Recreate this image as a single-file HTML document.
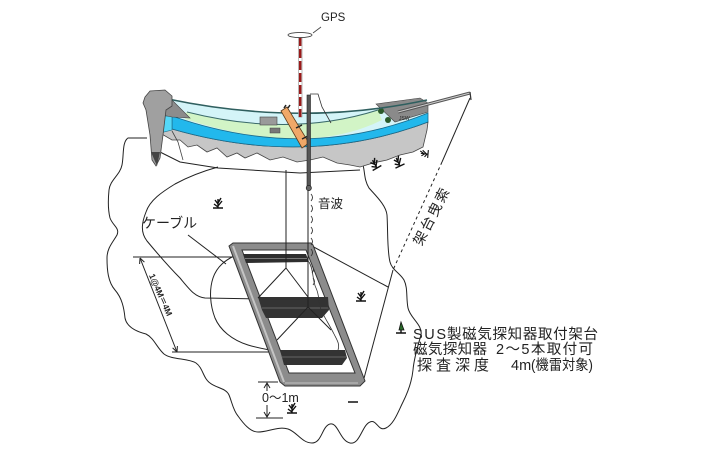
<!DOCTYPE html>
<html><head><meta charset="utf-8"><style>
html,body{margin:0;padding:0;background:#fff;}
svg{display:block;}
text{font-family:"Liberation Sans","Noto Sans CJK JP",sans-serif;fill:#222;}
</style></head><body>
<svg width="705" height="450" viewBox="0 0 705 450" xmlns="http://www.w3.org/2000/svg">
<defs>
<g id="wd"><path d="M-5,0 L5,0 M0,0 L0,-9 M0,-2 L4,-7 M0,-4 L-3,-8 M0,-1 L-4,-4 M0,-5 L3,-10" stroke="#111" stroke-width="1.4" fill="none"/></g>
</defs>
<rect width="705" height="450" fill="#fff"/>

<!-- outer blob -->
<path d="M147,138 L128,138 C122,142 124,155 122,165 C120,175 110,180 109,190 C108,200 108,210 110,218 C113,226 120,228 117,235 C113,242 107,248 107,258 C107,270 108,282 115,290 C122,298 124,308 125,318 C127,328 138,332 146,334 C154,338 157,348 164,354 C172,360 188,358 196,363 C203,368 203,378 210,383 C216,388 226,388 229,395 C232,402 233,410 238,416 C243,423 250,432 258,432 C268,432 278,426 288,429 C297,432 302,443 312,443 C322,443 322,426 330,424 C338,422 340,441 350,443 C360,445 362,425 370,422 C377,419 378,432 386,428 C394,424 398,412 403,402 C408,392 412,380 413,370 C414,358 418,345 421,335 C423,325 410,318 408,308 C406,298 408,288 404,280 C400,273 392,270 390,262 C387,250 388,230 387,215 C386,205 375,195 369,188 C364,180 365,172 363,165" fill="none" stroke="#222" stroke-width="1"/>

<!-- inner cable curve -->
<path d="M218,167 C200,172 186,178 175,184 C162,192 150,200 146,212 C142,222 140,232 147,241 C157,253 168,266 180,278 C190,290 195,297 205,298 L260,299" fill="none" stroke="#222" stroke-width="1"/>
<!-- cable loop -->
<path d="M234,256 C226,260 217,266 213,278 C209,290 210,305 215,318 C220,330 232,340 248,345 C258,348 268,350 282,352" fill="none" stroke="#222" stroke-width="1"/>
<line x1="188" y1="235" x2="226" y2="264" stroke="#222" stroke-width="1"/>

<!-- keel line -->
<path d="M160,152 L180,162 L218,168 L300,173 L360,170" fill="none" stroke="#222" stroke-width="1"/>

<!-- dimension lines -->
<line x1="133" y1="257" x2="244" y2="257" stroke="#222" stroke-width="1"/>
<line x1="172" y1="352" x2="286" y2="352" stroke="#222" stroke-width="1"/>
<line x1="140" y1="258" x2="177" y2="352" stroke="#222" stroke-width="1"/>
<path d="M140,258 l-0.4,6 M140,258 l4.4,4.1 M177,352 l0.4,-6 M177,352 l-4.4,-4.1" stroke="#222" stroke-width="1" fill="none"/>
<text transform="translate(158,296) rotate(66)" font-size="8.5" font-weight="bold" text-anchor="middle" fill="#333">1@4M＝4M</text>

<!-- lines from frame to tow point -->
<line x1="310" y1="245" x2="388" y2="287" stroke="#222" stroke-width="1"/>
<line x1="363" y1="382" x2="393" y2="270" stroke="#222" stroke-width="1"/>

<!-- tow rope -->
<line x1="470" y1="98" x2="442" y2="162" stroke="#222" stroke-width="1"/>
<line x1="442" y1="162" x2="393" y2="270" stroke="#222" stroke-width="1" stroke-dasharray="3,3"/>

<!-- frame -->
<path d="M229,246 L233,243 L311,243 L313,245 L365,381 L360,386 L285,386 L280,382 Z" fill="#8c8c8c" stroke="#333" stroke-width="1"/>
<path d="M233,246 L284,382" stroke="#c4c4c4" stroke-width="2"/>
<path d="M285,383 L358,383" stroke="#b0b0b0" stroke-width="1.5"/>
<path d="M242,250 L306,250 L355,373 L289,373 Z" fill="#fff" stroke="#333" stroke-width="1"/>

<!-- sensor bars -->
<path d="M243,254 L306,254 L309,262 L246,263 Z" fill="#2e2e2e"/>
<line x1="245" y1="258.5" x2="307" y2="258.5" stroke="#777" stroke-width="1"/>
<path d="M258,297 L328,297 L329,310 L322,318 L266,318 L262,310 Z" fill="#333"/>
<line x1="262" y1="308" x2="328" y2="308" stroke="#666" stroke-width="1"/>
<path d="M280,350 L345,350 L347,358 L342,365 L284,365 Z" fill="#333"/>
<line x1="282" y1="357" x2="346" y2="357" stroke="#666" stroke-width="1"/>

<!-- cables inside frame -->
<line x1="286" y1="170" x2="286" y2="268" stroke="#222" stroke-width="1"/>
<path d="M286,268 L258,298 M286,268 L308,297" stroke="#222" stroke-width="1" fill="none"/>
<line x1="308" y1="190" x2="308" y2="307" stroke="#222" stroke-width="1"/>
<path d="M308,307 L277,340 M308,307 L331,330" stroke="#222" stroke-width="1" fill="none"/>
<path d="M309,262 C314,270 312,280 316,288 C320,296 318,305 322,312 C326,320 330,326 334,334 C337,340 340,344 338,350" fill="none" stroke="#333" stroke-width="0.8"/>

<!-- sound waves -->
<path d="M311,194 q3,3.5 0,7 M311,205 q3,3.5 0,7 M311,216 q3,3.5 0,7 M311,227 q3,3.5 0,7 M311,238 q3,3.5 0,7 M311,249 q3,3.5 0,7 M312,266 q3,3.5 0,7 M313,278 q3,3.5 0,7" fill="none" stroke="#333" stroke-width="0.9"/>

<!-- ===== BOAT ===== -->
<!-- gray hull -->
<path d="M160,133 L172,129 Q307,168 428,122 L427,130 L423,147 L413,152 L400,155 L387,160 L373,163 L360,167 L350,165 L337,163 L323,157 L310,160 L297,162 L283,157 L270,160 L257,153 L245,158 L237,153 L227,157 L217,148 L207,152 L197,145 L188,147 L180,140 L172,140 Z" fill="#c6c6c6" stroke="#444" stroke-width="0.8"/>
<path d="M172,131 L178,142 L183,160" fill="none" stroke="#444" stroke-width="0.8"/>
<!-- deck -->
<path d="M168,99 Q302,127 427,100 L428,113 Q306,163 172,116 Z" fill="#d4f4f8"/>
<path d="M186,112 Q290,138 378,110 L382,120 Q306,158 185,119 Z" fill="#d2f4c6"/>
<path d="M187,112 Q290,138 378,110" fill="none" stroke="#3a6a6a" stroke-width="1"/>
<!-- blue band -->
<path d="M172,116 Q306,163 428,113 L428,122 Q307,168 172,129 Z" fill="#22b8ec" stroke="#1a6a8a" stroke-width="0.8"/>
<path d="M161,116 L172,116 L172,130 L160,133 Z" fill="#55d8f8" stroke="#1a6a8a" stroke-width="0.6"/>
<!-- stern seat -->
<path d="M163,104 L172,100 L190,118 L172,117 L162,115 Z" fill="#8c8c8c" stroke="#444" stroke-width="0.6"/>
<!-- bow plate -->
<path d="M376,104 L420,98 L428,103 L428,112 L395,122 Z" fill="#8a8a8a" stroke="#444" stroke-width="0.6"/>
<circle cx="381" cy="111" r="3" fill="#2a5a2a"/>
<circle cx="388" cy="120" r="3" fill="#2a5a2a"/>
<text x="399" y="120" font-size="5" fill="#1a5a9a">JSW</text>
<!-- gunwale -->
<path d="M168,99 Q302,127 427,100" fill="none" stroke="#2f5f5f" stroke-width="1.6"/>
<!-- boxes -->
<rect x="260" y="117" width="17" height="8" fill="#9a9a9a" stroke="#444" stroke-width="0.6"/>
<rect x="270" y="128" width="10" height="5" fill="#777" stroke="#444" stroke-width="0.5"/>
<!-- bow boom -->
<line x1="398" y1="112" x2="470" y2="93" stroke="#555" stroke-width="3"/>
<line x1="398" y1="112" x2="470" y2="93" stroke="#ccc" stroke-width="1"/>
<line x1="470" y1="92" x2="471" y2="100" stroke="#333" stroke-width="1.2"/>
<!-- white flap -->
<path d="M310,94 L318,94 L322,107 L331,123" fill="none" stroke="#333" stroke-width="0.8"/>
<!-- mast -->
<rect x="298.5" y="37" width="3.5" height="80" fill="#fff" stroke="#777" stroke-width="0.5"/>
<line x1="300.2" y1="37" x2="300.2" y2="117" stroke="#9a1a1a" stroke-width="2.5" stroke-dasharray="9,3"/>
<ellipse cx="300" cy="35" rx="12" ry="2.6" fill="#fff" stroke="#444" stroke-width="0.9"/>
<line x1="313" y1="33" x2="321" y2="27" stroke="#444" stroke-width="0.8"/>
<text x="321" y="21" font-size="11.5">GPS</text>
<!-- orange plank -->
<path d="M281,111 L287,107 L309,143 L302,148 Z" fill="#f0a868" stroke="#5a3a1a" stroke-width="0.8"/>
<path d="M284,108 l2,-3 M288,108 l2,-3 M296,128 l6,-3 M302,139 l6,-3" stroke="#222" stroke-width="1.5"/>
<!-- sonar pole -->
<rect x="307" y="95" width="3.5" height="92" fill="#555" stroke="#222" stroke-width="0.6"/>
<circle cx="308.8" cy="188" r="2.6" fill="#666" stroke="#222" stroke-width="0.7"/>
<!-- outboard motor -->
<path d="M145,97 L150,91 L165,90 L172,96 L172,106 L166,110 L163,135 L160,158 L156,166 L152,160 L150,135 L146,110 L143,103 Z" fill="#a0a0a0" stroke="#444" stroke-width="0.8"/>
<path d="M151,152 L160,152 L157,166 Z" fill="#444"/>

<!-- seaweeds -->
<use href="#wd" x="218" y="208"/>
<use href="#wd" x="361" y="301"/>
<use href="#wd" x="292" y="413"/>
<g transform="translate(401,333)"><path d="M-5,0 L5,0 M0,0 L0,-4" stroke="#111" stroke-width="1.4"/><path d="M-2,-3 L0,-11 L3,-3 Z" fill="#2a6a2a" stroke="#111" stroke-width="0.8"/></g>
<line x1="348" y1="402" x2="358" y2="402" stroke="#111" stroke-width="1.5"/>
<use href="#wd" transform="translate(377,168) rotate(-30)"/>
<use href="#wd" transform="translate(400,166) rotate(-25)"/>
<use href="#wd" transform="translate(428,154) rotate(-85) scale(0.8)"/>

<!-- 0~1m dimension -->
<line x1="258" y1="382" x2="278" y2="382" stroke="#222" stroke-width="1"/>
<line x1="256" y1="418" x2="283" y2="418" stroke="#222" stroke-width="1"/>
<path d="M267,383 L267,391 M264,388 L267,383 L270,388 M267,405 L267,417 M264,412 L267,417 L270,412" fill="none" stroke="#222" stroke-width="1"/>
<text x="262" y="402" font-size="12.5">0～1m</text>

<!-- labels -->
<text x="318" y="208" font-size="12.5">音波</text>
<text x="142" y="228" font-size="14">ケーブル</text>
<text transform="translate(436,218) rotate(-63)" font-size="14" text-anchor="middle" letter-spacing="2">架台曳索</text>

<text x="413" y="339" font-size="14.5" textLength="33" lengthAdjust="spacing">SUS</text>
<text x="447" y="339" font-size="14.5" textLength="151" lengthAdjust="spacing">製磁気探知器取付架台</text>
<text x="413" y="354" font-size="14.5" textLength="74" lengthAdjust="spacing">磁気探知器</text>
<text x="496" y="354" font-size="14.5" textLength="97" lengthAdjust="spacing">2～5本取付可</text>
<text x="417" y="370" font-size="15" textLength="72" lengthAdjust="spacing">探査深度</text>
<text x="511" y="370" font-size="14.5">4m</text>
<text x="531" y="370" font-size="14.5" textLength="62" lengthAdjust="spacingAndGlyphs">(機雷対象)</text>
</svg>
</body></html>
